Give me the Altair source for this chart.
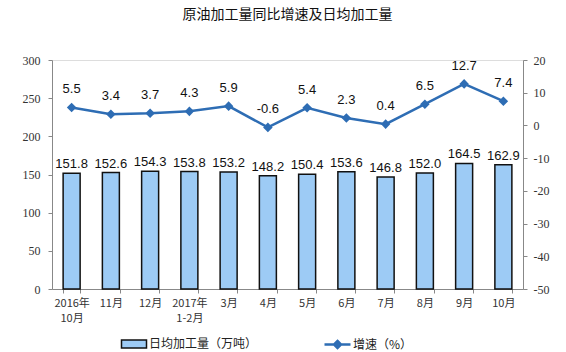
import altair as alt
import pandas as pd

months = ["2016年\n10月", "11月", "12月", "2017年\n1-2月", "3月", "4月",
          "5月", "6月", "7月", "8月", "9月", "10月"]
output = [151.8, 152.6, 154.3, 153.8, 153.2, 148.2, 150.4, 153.6, 146.8, 152.0, 164.5, 162.9]
growth = [5.5, 3.4, 3.7, 4.3, 5.9, -0.6, 5.4, 2.3, 0.4, 6.5, 12.7, 7.4]

bar_name = "日均加工量（万吨）"
line_name = "增速（%）"

df = pd.DataFrame({
    "month": months,
    "output": output,
    "growth": growth,
    "output_lbl": [f"{v:.1f}" for v in output],
    "growth_lbl": [f"{v:.1f}" for v in growth],
    "bar_s": [bar_name] * len(months),
    "line_s": [line_name] * len(months),
})

CJK = "Noto Sans CJK SC"
NUM = "Liberation Serif"
LINE_C = "#2E6DB4"
BAR_C = "#9DCBF5"

x = alt.X("month:N", sort=months, title=None,
          scale=alt.Scale(paddingInner=0.56, paddingOuter=0.28),
          axis=alt.Axis(labelExpr="split(datum.label, '\\n')", labelAngle=0,
                        labelFont=CJK, labelFontSize=11, labelColor="#333",
                        labelLineHeight=15, labelPadding=4,
                        domainColor="#888", tickColor="#888", tickBand="extent",
                        tickSize=4, labelBaseline="top"))

y1 = alt.Y("output:Q", title=None,
           scale=alt.Scale(domain=[0, 300], nice=False),
           axis=alt.Axis(values=[0, 50, 100, 150, 200, 250, 300], grid=False,
                         labelFont=NUM, labelFontSize=12, labelColor="#333",
                         domainColor="#888", tickColor="#888", tickSize=4,
                         labelPadding=8))

y2 = alt.Y("growth:Q", title=None,
           scale=alt.Scale(domain=[-50, 20], nice=False),
           axis=alt.Axis(orient="right", values=list(range(-50, 21, 10)), grid=False,
                         labelExpr="datum.value < 0 ? '-' + abs(datum.value) : '' + datum.value",
                         labelFont=NUM, labelFontSize=12, labelColor="#333",
                         domainColor="#888", tickColor="#888", tickSize=4,
                         labelPadding=6))

base = alt.Chart(df)

bars = base.mark_bar(stroke="#111", strokeWidth=1.5, size=17).encode(
    x=x,
    y=y1,
    fill=alt.Fill("bar_s:N", title=None,
                  scale=alt.Scale(domain=[bar_name], range=[BAR_C]),
                  legend=alt.Legend(orient="none", legendX=71, legendY=273,
                                    symbolType="M-1.25,-0.4H1.25V0.4H-1.25Z",
                                    symbolSize=400, symbolStrokeColor="#111",
                                    symbolStrokeWidth=1.5,
                                    labelFont=CJK, labelFontSize=12, labelColor="#222")),
)

bar_text = base.mark_text(baseline="bottom", dy=-2, font="Liberation Sans",
                          fontSize=13, color="#111").encode(
    x=x,
    y=y1,
    text="output_lbl:N",
)

line = base.mark_line(strokeWidth=2.5, point=alt.OverlayMarkDef(
    shape="diamond", size=45, filled=True, color=LINE_C)).encode(
    x=x,
    y=y2,
    stroke=alt.Stroke("line_s:N", title=None,
                      scale=alt.Scale(domain=[line_name], range=[LINE_C]),
                      legend=alt.Legend(orient="none", legendX=274, legendY=273,
                                        symbolType="M-1.3,0H1.3M0,-0.35L0.35,0L0,0.35L-0.35,0Z",
                                        symbolSize=400, symbolStrokeWidth=2.5,
                                        symbolFillColor=LINE_C,
                                        labelFont=CJK, labelFontSize=12, labelColor="#222")),
)

line_text = base.mark_text(baseline="bottom", dy=-11, font="Liberation Sans",
                           fontSize=13, color="#111").encode(
    x=x,
    y=y2,
    text="growth_lbl:N",
)

left = alt.layer(bars, bar_text)
right = alt.layer(line, line_text)

chart = alt.layer(left, right).resolve_scale(y="independent").properties(
    width=471, height=229,
    title=alt.TitleParams("原油加工量同比增速及日均加工量", font=CJK, fontSize=14,
                          fontWeight="normal", color="#111", offset=32, anchor="middle"),
    autosize=alt.AutoSizeParams(type="none"),
    padding={"left": 52, "top": 60, "right": 43, "bottom": 63},
).configure_view(stroke=None).configure(background="white")

chart.save("out.html", embed_options={"renderer": "svg", "actions": False})
